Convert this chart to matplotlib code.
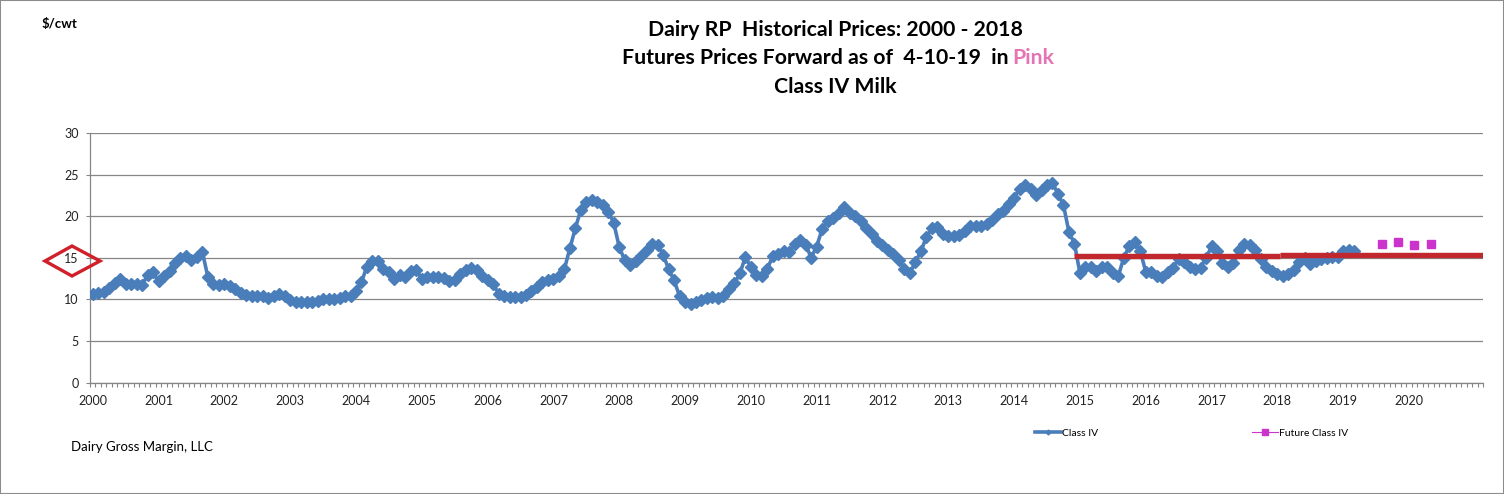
import numpy as np
import matplotlib
matplotlib.use("Agg")
import matplotlib.pyplot as plt
from matplotlib.lines import Line2D
from matplotlib.patches import Polygon, Rectangle

plt.rcParams['font.family'] = ['Lato', 'DejaVu Sans']

# monthly Class IV price, $/cwt, Jan 2000 .. Mar 2019 (one row per year)
class_iv = [
    10.68, 10.76, 10.88, 11.40, 11.96, 12.44, 11.88, 11.80, 11.88, 11.68, 12.96, 13.28,  # 2000
    12.16, 12.76, 13.48, 14.40, 15.00, 15.28, 14.76, 15.16, 15.68, 12.68, 11.88, 11.76,  # 2001
    11.88, 11.56, 11.28, 10.76, 10.48, 10.44, 10.40, 10.36, 10.16, 10.44, 10.60, 10.40,  # 2002
    9.96, 9.68, 9.68, 9.68, 9.68, 9.80, 10.04, 10.08, 10.08, 10.12, 10.36, 10.44,        # 2003
    11.00, 12.10, 13.96, 14.60, 14.60, 13.70, 13.36, 12.50, 12.90, 12.70, 13.40, 13.50,  # 2004
    12.50, 12.70, 12.70, 12.70, 12.60, 12.16, 12.30, 13.10, 13.50, 13.80, 13.56, 12.76,  # 2005
    12.36, 11.90, 10.70, 10.45, 10.30, 10.25, 10.25, 10.55, 11.05, 11.55, 12.10, 12.33,  # 2006
    12.45, 12.85, 13.65, 16.15, 18.55, 20.80, 21.65, 21.97, 21.77, 21.37, 20.55, 19.20,  # 2007
    16.30, 14.70, 14.20, 14.60, 15.25, 15.95, 16.65, 16.57, 15.40, 13.65, 12.30, 10.40,  # 2008
    9.68, 9.50, 9.68, 9.98, 10.16, 10.26, 10.12, 10.36, 11.20, 11.92, 13.12, 15.10,      # 2009
    13.90, 12.92, 12.86, 13.68, 15.20, 15.50, 15.78, 15.66, 16.72, 17.16, 16.58, 15.02,  # 2010
    16.36, 18.47, 19.37, 19.77, 20.33, 21.09, 20.41, 19.97, 19.45, 18.57, 17.89, 16.97,  # 2011
    16.60, 15.96, 15.42, 14.80, 13.66, 13.16, 14.52, 15.78, 17.49, 18.53, 18.65, 17.83,  # 2012
    17.63, 17.63, 17.73, 18.23, 18.87, 18.81, 18.88, 19.09, 19.53, 20.29, 20.59, 21.49,  # 2013
    22.20, 23.30, 23.80, 23.30, 22.60, 23.10, 23.70, 24.00, 22.70, 21.33, 18.12, 16.72,  # 2014
    13.20, 13.86, 13.88, 13.48, 13.92, 13.92, 13.22, 12.80, 15.00, 16.40, 16.88, 15.80,  # 2015
    13.36, 13.36, 12.76, 12.68, 13.24, 13.84, 14.85, 14.56, 13.96, 13.68, 13.84, 14.97,  # 2016
    16.37, 15.85, 14.37, 13.96, 14.44, 15.89, 16.65, 16.57, 15.97, 14.85, 13.96, 13.48,  # 2017
    13.04, 12.84, 13.04, 13.56, 14.56, 14.97, 14.25, 14.68, 14.85, 14.97, 15.16, 15.16,  # 2018
    15.77, 15.89, 15.77,                                                                 # 2019
]

# futures forward as of 4-10-19 (month index from Jan 2000)
future_month = [235, 238, 241, 244]
future_class_iv = [16.70, 16.85, 16.60, 16.70]

# red average line drawn over the chart (month index, $/cwt)
avg_month_1 = [179, 216.5]
avg_value_1 = [15.25, 15.25]
avg_month_2 = [216.5, 253.5]
avg_value_2 = [15.37, 15.37]

n_months = 254
year_labels = [str(y) for y in range(2000, 2021)]

W, H = 1504, 494
fig = plt.figure(figsize=(W / 100, H / 100), dpi=100)

def fx(px):
    return px / W

def fy(py):
    return 1 - py / H

ax = fig.add_axes([fx(90), fy(382.7), fx(1393), 249.7 / H])

grid_col = '#868686'
blue = '#4a7ebb'

months = np.arange(len(class_iv))
ax.plot(months, class_iv, color=blue, lw=2.6, marker='D', ms=5.8, mec=blue, mfc=blue, zorder=3)
ax.plot(future_month, future_class_iv, ls='none', marker='s', ms=5.5, color='#cc33cc', zorder=4)
ax.plot(avg_month_1, avg_value_1, color='#c0282d', lw=3.9, solid_capstyle='butt', zorder=5)
ax.plot(avg_month_2, avg_value_2, color='#c0282d', lw=3.9, solid_capstyle='butt', zorder=5)

ax.set_xlim(-0.5, n_months - 0.5)
ax.set_ylim(0, 30)
ax.set_yticks(np.arange(0, 31, 5))
ax.yaxis.grid(True, color=grid_col, lw=0.9)
ax.set_axisbelow(True)

ax.set_xticks(np.arange(0, 12 * len(year_labels), 12))
ax.set_xticklabels(year_labels)
ax.set_xticks(np.arange(-0.5, n_months, 1), minor=True)
ax.tick_params(axis='x', which='major', length=0, pad=9, labelsize=9, labelcolor='#222222')
ax.tick_params(axis='x', which='minor', length=3, width=0.8, color=grid_col)
ax.tick_params(axis='y', length=3, width=0.8, color=grid_col, pad=5, labelsize=9, labelcolor='#222222')

for s in ['top', 'right']:
    ax.spines[s].set_visible(False)
for s in ['left', 'bottom']:
    ax.spines[s].set_color(grid_col)
    ax.spines[s].set_linewidth(0.9)

# titles
title_size = 15.3
fig.text(fx(835), fy(30), 'Dairy RP  Historical Prices: 2000 - 2018', ha='center', va='center',
         fontsize=title_size, fontweight='bold')
fig.text(fx(1009), fy(58), 'Futures Prices Forward as of  4-10-19  in', ha='right', va='center',
         fontsize=title_size, fontweight='bold')
fig.text(fx(1012), fy(58), 'Pink', ha='left', va='center', fontsize=title_size, fontweight='bold',
         color='#e574b4')
fig.text(fx(835), fy(87), 'Class IV Milk', ha='center', va='center', fontsize=title_size,
         fontweight='bold')

fig.text(fx(42), fy(24), '$/cwt', ha='left', va='center', fontsize=9.5, fontweight='bold')
fig.text(fx(71), fy(447), 'Dairy Gross Margin, LLC', ha='left', va='center', fontsize=9.5)

# legend
handles = [
    Line2D([], [], color=blue, lw=2.6, marker='D', ms=2.5),
    Line2D([], [], color='#cc33cc', lw=0.8, marker='s', ms=3.8),
]
fig.legend(handles, ['Class IV', 'Future Class IV'], ncol=2, frameon=False,
           loc='center left', bbox_to_anchor=(fx(1035), fy(433)), fontsize=7.5,
           handlelength=2.5, handletextpad=0.1, columnspacing=14.8,
           borderpad=0, borderaxespad=0)

# red diamond marker on the 15 tick
diamond = Polygon([(fx(45), fy(261)), (fx(72), fy(246)), (fx(100), fy(261)), (fx(72), fy(276))],
                  closed=True, fill=False, ec='#d0202a', lw=2.4, transform=fig.transFigure)
fig.patches.append(diamond)

# outer border
fig.patches.append(Rectangle((0, 0), 1, 1, fill=False, ec='#8c8c8c', lw=1.5,
                             transform=fig.transFigure))

fig.savefig('out.png', dpi=100)
